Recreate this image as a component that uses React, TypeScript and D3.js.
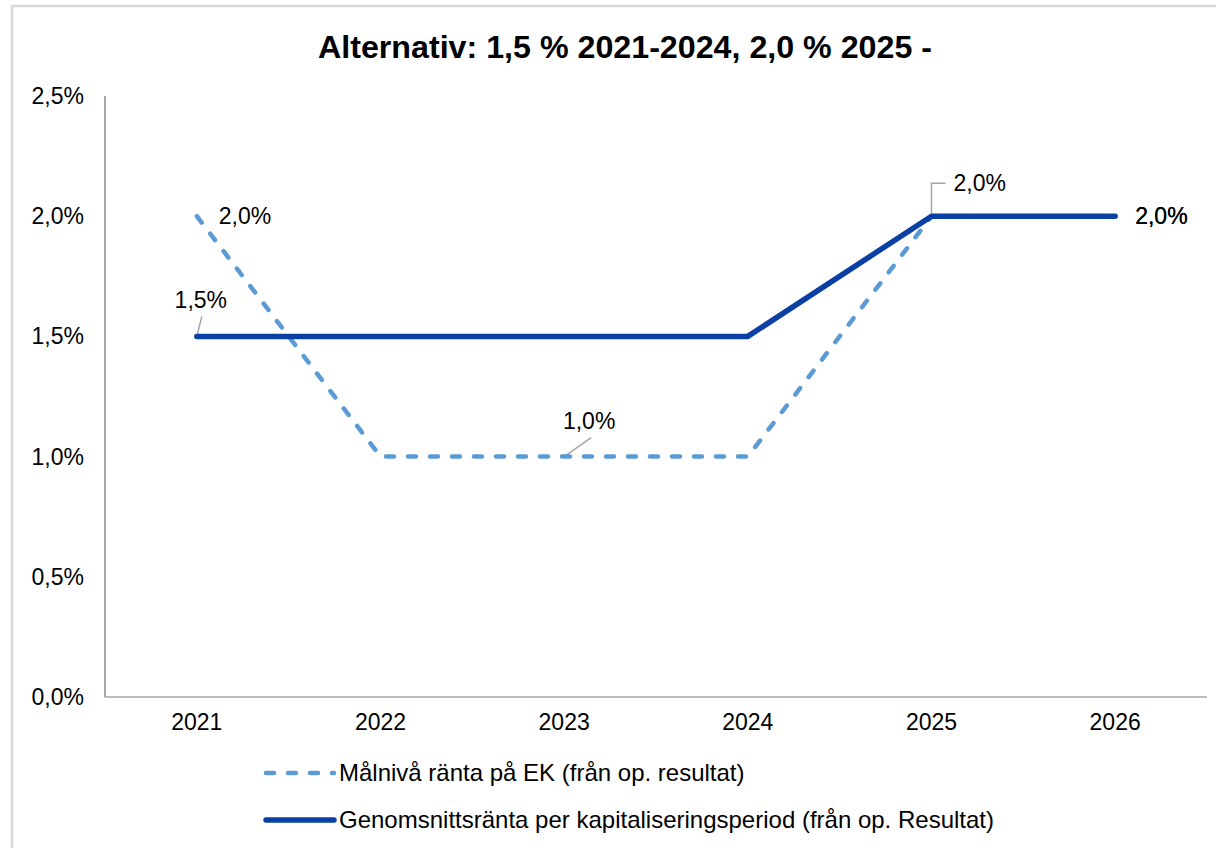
import React from "react";
import * as d3 from "d3";

const years = ["2021", "2022", "2023", "2024", "2025", "2026"];
const malniva = [2.0, 1.0, 1.0, 1.0, 2.0, 2.0];
const genomsnitt = [1.5, 1.5, 1.5, 1.5, 2.0, 2.0];
const yTicks = [0, 0.5, 1.0, 1.5, 2.0, 2.5];
const title = "Alternativ: 1,5 % 2021-2024,  2,0 % 2025 -";
const legendLabels = [
  "Målnivå ränta på EK (från op. resultat)",
  "Genomsnittsränta per kapitaliseringsperiod (från op. Resultat)",
];

const fmt = (v: number) => v.toFixed(1).replace(".", ",") + "%";

export default function App() {
  const W = 1216, H = 848;
  const left = 105, right = 1207, top = 96, bottom = 697;
  const x = d3.scaleBand<string>().domain(years).range([left, right]);
  const cx = (y: string) => (x(y) as number) + x.bandwidth() / 2;
  const y = d3.scaleLinear().domain([0, 2.5]).range([bottom, top]);
  const line = d3.line<number>().x((_, i) => cx(years[i])).y((d) => y(d));
  const font = "'Liberation Sans', Arial, sans-serif";
  const dark = "#0a3fa3";
  const light = "#5b9bd5";
  const grey = "#a6a6a6";
  const fs = 23;

  return (
    <svg width={W} height={H} style={{ position: "absolute", left: 0, top: 0 }} fontFamily={font}>
      <rect x={0} y={0} width={W} height={H} fill="#fff" />
      <path d={`M12,${H} L12,6 L${W},6`} fill="none" stroke="#d9d9d9" strokeWidth={2.5} />
      <text x={625} y={58} textAnchor="middle" fontSize={32} fontWeight="bold" fill="#000" textLength={614} lengthAdjust="spacingAndGlyphs">{title}</text>
      {/* axes */}
      <line x1={left} x2={left} y1={top} y2={bottom} stroke={grey} strokeWidth={2} />
      <line x1={left} x2={right} y1={bottom} y2={bottom} stroke={grey} strokeWidth={1.5} />
      {yTicks.map((t) => (
        <text key={t} x={84} y={y(t) + 8} textAnchor="end" fontSize={fs} fill="#000">{fmt(t)}</text>
      ))}
      {years.map((yr) => (
        <text key={yr} x={cx(yr)} y={bottom + 33} textAnchor="middle" fontSize={fs} fill="#000">{yr}</text>
      ))}
      {/* leader lines */}
      <line x1={cx("2021")} y1={y(1.5)} x2={cx("2021") + 5} y2={y(1.5) - 20} stroke={grey} strokeWidth={1.5} />
      <line x1={cx("2023")} y1={y(1.0)} x2={cx("2023") + 27} y2={y(1.0) - 19} stroke={grey} strokeWidth={1.5} />
      <path d={`M${cx("2025")},${y(2.0)} L${cx("2025")},${y(2.0) - 33} L${cx("2025") + 14},${y(2.0) - 33}`} fill="none" stroke={grey} strokeWidth={1.5} />
      {/* series */}
      <path d={line(malniva) as string} fill="none" stroke={light} strokeWidth={4.5} strokeDasharray="8 14" strokeLinecap="round" strokeLinejoin="round" />
      <path d={line(genomsnitt) as string} fill="none" stroke={dark} strokeWidth={5.5} strokeLinecap="round" strokeLinejoin="round" />
      {/* data labels */}
      <text x={cx("2021") + 22} y={y(malniva[0]) + 8} fontSize={fs} fill="#000">{fmt(malniva[0])}</text>
      <text x={cx("2021") + 4} y={y(genomsnitt[0]) - 28} textAnchor="middle" fontSize={fs} fill="#000">{fmt(genomsnitt[0])}</text>
      <text x={cx("2023") + 25} y={y(malniva[2]) - 28} textAnchor="middle" fontSize={fs} fill="#000">{fmt(malniva[2])}</text>
      <text x={cx("2025") + 22} y={y(malniva[4]) - 25} fontSize={fs} fill="#000">{fmt(malniva[4])}</text>
      <text x={cx("2026") + 20} y={y(malniva[5]) + 8} fontSize={fs} fill="#000">{fmt(malniva[5])}</text>
      <text x={cx("2026") + 20} y={y(genomsnitt[5]) + 8} fontSize={fs} fill="#000">{fmt(genomsnitt[5])}</text>
      {/* legend */}
      <line x1={266} x2={334} y1={773} y2={773} stroke={light} strokeWidth={4.5} strokeDasharray="8 14" strokeLinecap="round" />
      <text x={339} y={781} fontSize={24} fill="#000">{legendLabels[0]}</text>
      <line x1={266} x2={334} y1={820} y2={820} stroke={dark} strokeWidth={5.5} strokeLinecap="round" />
      <text x={339} y={828} fontSize={24} fill="#000">{legendLabels[1]}</text>
    </svg>
  );
}
